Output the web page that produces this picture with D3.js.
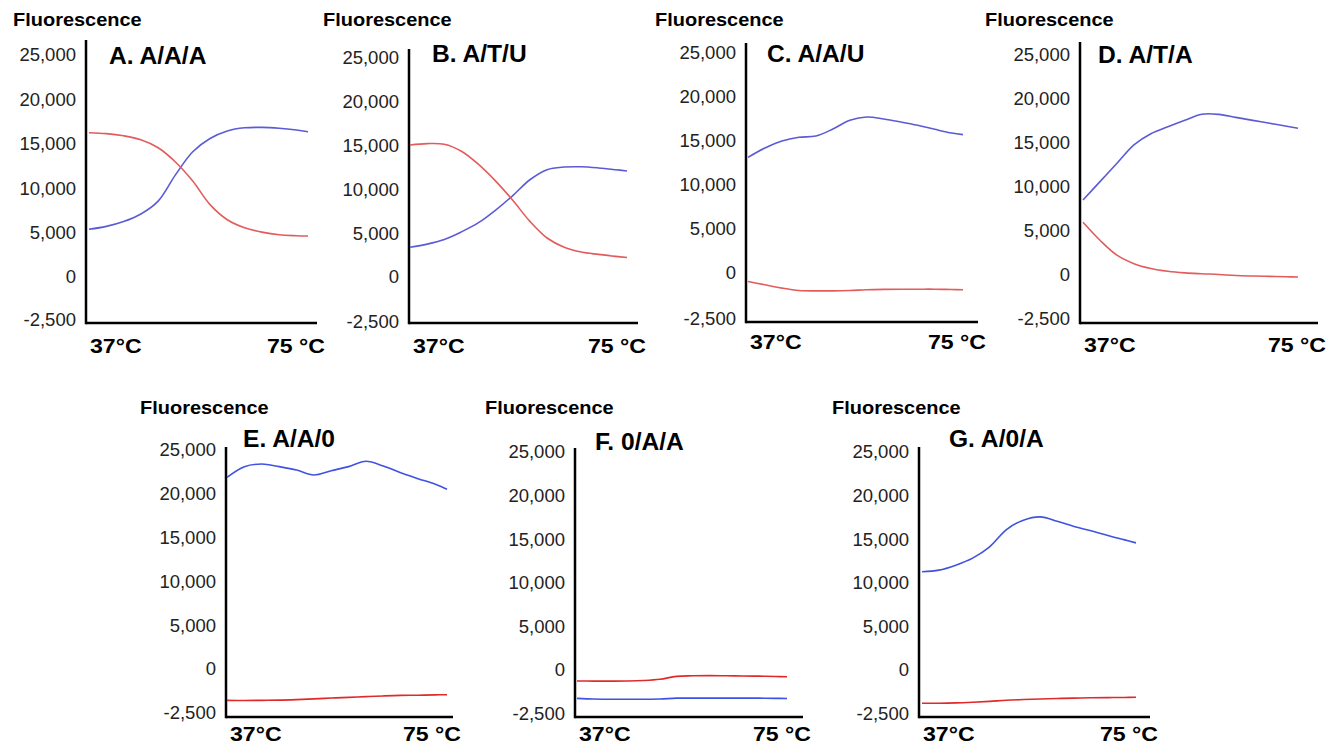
<!DOCTYPE html>
<html>
<head>
<meta charset="utf-8">
<script src="https://cdn.jsdelivr.net/npm/d3@7"></script>
<style>
  body { margin: 0; background: #fff; }
  text { font-family: "Liberation Sans", Arial, sans-serif; }
</style>
</head>
<body>
<div id="my_dataviz"></div>
<script>
// temperatures (degrees C) shared by every panel
var temps = [37, 40, 43, 46, 49, 52, 55, 58, 61, 64, 67, 70, 73, 75];

// fluorescence, blue and red traces
var blueA = [5370, 5700, 6250, 7100, 8550, 11500, 14100, 15600, 16450, 16800, 16850, 16750, 16550, 16360];
var redA  = [16250, 16150, 15900, 15450, 14550, 12950, 10800, 8150, 6450, 5550, 5050, 4750, 4650, 4620];

var blueB = [3390, 3750, 4280, 5150, 6200, 7640, 9300, 11100, 12250, 12550, 12580, 12450, 12250, 12100];
var redB  = [15070, 15230, 15150, 14350, 12850, 10950, 8750, 6350, 4450, 3400, 2850, 2580, 2350, 2230];

var blueC = [13140, 14200, 15000, 15420, 15570, 16360, 17350, 17730, 17500, 17160, 16780, 16330, 15910, 15720];
var redC  = [-460, -640, -820, -950, -970, -970, -950, -910, -890, -880, -880, -880, -900, -910];

var blueD = [8520, 10610, 12690, 14790, 16060, 16840, 17580, 18270, 18250, 17910, 17570, 17240, 16900, 16680];
var redD  = [5990, 3950, 2250, 1290, 740, 420, 240, 140, 60, -30, -60, -80, -100, -110];

var blueE = [21880, 23100, 23400, 23100, 22720, 22150, 22640, 23100, 23710, 23170, 22410, 21730, 21080, 20510];
var redE  = [-1780, -1790, -1780, -1770, -1740, -1700, -1650, -1610, -1570, -1530, -1500, -1490, -1470, -1460];

var blueF = [-1610, -1650, -1660, -1660, -1660, -1650, -1600, -1600, -1600, -1600, -1600, -1600, -1610, -1620];
var redF  = [-625, -630, -630, -625, -600, -530, -360, -330, -320, -330, -340, -350, -370, -380];

var blueG = [11260, 11450, 12020, 12830, 14120, 16110, 17180, 17560, 17060, 16450, 15960, 15420, 14920, 14580];
var redG  = [-1890, -1890, -1870, -1830, -1780, -1720, -1680, -1650, -1620, -1600, -1580, -1570, -1560, -1550];

// y tick values and labels
var yTicks = [-2500, 0, 5000, 10000, 15000, 20000, 25000];
var titles = ["A. A/A/A", "B. A/T/U", "C. A/A/U", "D. A/T/A", "E. A/A/0", "F. 0/A/A", "G. A/0/A"];
var yLabel = "Fluorescence";
var xLabels = ["37°C", "75 °C"];

// panel layout
var panels = [
  {ax: 86,   top: 40,  y25: 55,  y0: 277, yMin: 320, bottom: 323, right: 317,  xs: 89,   xe: 308,  flX: 13,  flY: 26,  tX: 109,  tY: 64,  lY: 353, row: 0},
  {ax: 409,  top: 49,  y25: 58,  y0: 277, yMin: 322, bottom: 323, right: 638,  xs: 410,  xe: 627,  flX: 323, flY: 26,  tX: 432,  tY: 62,  lY: 353, row: 0},
  {ax: 746,  top: 43,  y25: 53,  y0: 273, yMin: 319, bottom: 322, right: 978,  xs: 748,  xe: 963,  flX: 655, flY: 26,  tX: 767,  tY: 62,  lY: 349, row: 0},
  {ax: 1080, top: 42,  y25: 55,  y0: 275, yMin: 319, bottom: 323, right: 1318, xs: 1083, xe: 1298, flX: 985, flY: 26,  tX: 1098, tY: 63,  lY: 352, row: 0},
  {ax: 226,  top: 447, y25: 450, y0: 669, yMin: 713, bottom: 717, right: 453,  xs: 227,  xe: 447,  flX: 140, flY: 414, tX: 243,  tY: 447, lY: 741, row: 1},
  {ax: 575,  top: 448, y25: 452, y0: 670, yMin: 714, bottom: 717, right: 803,  xs: 577,  xe: 787,  flX: 485, flY: 414, tX: 595,  tY: 450, lY: 741, row: 1},
  {ax: 919,  top: 447, y25: 452, y0: 670, yMin: 714, bottom: 717, right: 1150, xs: 922,  xe: 1136, flX: 832, flY: 414, tX: 949,  tY: 447, lY: 741, row: 1}
];
var series = [
  [blueA, redA], [blueB, redB], [blueC, redC], [blueD, redD],
  [blueE, redE], [blueF, redF], [blueG, redG]
];
var colors = [["#5b5bd6", "#e25c5c"], ["#3f52e2", "#e02a2a"]];

var width = 1334, height = 745;

var svg = d3.select("#my_dataviz")
  .append("svg")
    .attr("width", width)
    .attr("height", height);

var fmt = d3.formatLocale({decimal: ".", thousands: ",", grouping: [3], currency: ["", ""], minus: "-"}).format(",");

// bold labels in the original are a little wider than the font, so stretch them
function boldText(g, x, y, str, size, sx, anchor) {
  g.append("text")
    .attr("transform", "translate(" + x + "," + y + ") scale(" + sx + ",1)")
    .attr("text-anchor", anchor || "start")
    .style("font-weight", "bold")
    .style("font-size", size + "px")
    .attr("fill", "#000")
    .text(str);
}

panels.forEach(function(p, i) {
  var g = svg.append("g");

  var x = d3.scaleLinear().domain([37, 75]).range([p.xs, p.xe]);
  // the original axis spaces -2,500 a full step below 0
  var y = d3.scaleLinear().domain([-2500, 0, 25000]).range([p.yMin, p.y0, p.y25]);

  var yAxis = g.append("g")
    .attr("transform", "translate(" + p.ax + ",0)")
    .call(d3.axisLeft(y).tickValues(yTicks).tickSize(0).tickPadding(10).tickFormat(fmt));
  yAxis.select(".domain").remove();
  yAxis.selectAll("text")
    .style("font-family", "'Liberation Sans', Arial, sans-serif")
    .style("font-size", "18.5px")
    .attr("fill", "#222");

  // axis lines
  g.append("line")
    .attr("x1", p.ax).attr("x2", p.ax)
    .attr("y1", p.top).attr("y2", p.bottom + 1.25)
    .attr("stroke", "#000").attr("stroke-width", 2.5);
  g.append("line")
    .attr("x1", p.ax).attr("x2", p.right)
    .attr("y1", p.bottom).attr("y2", p.bottom)
    .attr("stroke", "#000").attr("stroke-width", 2.5);

  var line = d3.line()
    .x(function(d, j) { return x(temps[j]); })
    .y(function(d) { return y(d); })
    .curve(d3.curveCatmullRom.alpha(0.5));

  series[i].forEach(function(vals, k) {
    g.append("path")
      .datum(vals)
      .attr("fill", "none")
      .attr("stroke", colors[p.row][k])
      .attr("stroke-width", 1.6)
      .attr("d", line);
  });

  boldText(g, p.flX, p.flY, yLabel, 18, 1.11);
  boldText(g, p.tX, p.tY, titles[i], 23, 1.07);
  boldText(g, p.ax + 4, p.lY, xLabels[0], 21, 1.1);
  boldText(g, p.right + 8, p.lY, xLabels[1], 21, 1.1, "end");
});
</script>
</body>
</html>
